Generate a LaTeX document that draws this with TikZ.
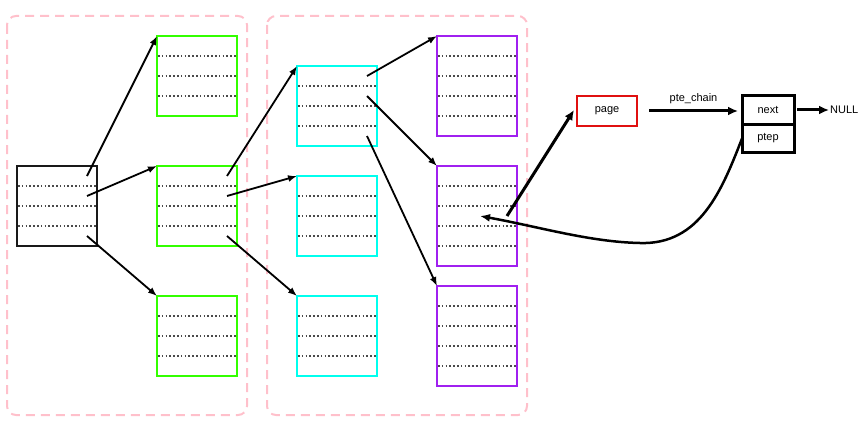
\documentclass[tikz,border=0pt]{standalone}
\usepackage{fontspec}
\setmainfont{Liberation Sans}
\usetikzlibrary{arrows.meta,calc}
\definecolor{gr}{HTML}{33FF00}
\definecolor{cy}{HTML}{00FFEE}
\definecolor{pu}{HTML}{A020F0}
\definecolor{rd}{HTML}{E01010}
\definecolor{pk}{HTML}{FFC0CB}
\definecolor{dk}{HTML}{4A4A4A}
\tikzset{
  grp/.style={draw=pk,line width=2pt,dash pattern=on 9pt off 6pt,rounded corners=9pt},
  cell/.style={draw=#1,line width=2pt,minimum width=80pt,minimum height=80pt,inner sep=0pt,outer sep=0pt,anchor=north west},
  tall/.style={draw=#1,line width=2pt,minimum width=80pt,minimum height=100pt,inner sep=0pt,outer sep=0pt,anchor=north west},
  sep/.style={draw=dk,line width=1.5pt,dash pattern=on 1.6pt off 2.2pt},
  arr/.style={draw=black,line width=1.8pt,-{Latex[length=9pt,width=7pt]}},
  thk/.style={draw=black,line width=3pt,-{Latex[length=10pt,width=9pt]}},
  lbl/.style={font=\fontsize{11pt}{13pt}\selectfont,inner sep=1pt},
  rec/.style={draw=black,line width=3pt,minimum width=52pt,minimum height=28.5pt,inner sep=0pt,outer sep=0pt,lbl}
}
\begin{document}
\begin{tikzpicture}[x=1pt,y=-1pt]
\useasboundingbox (0,0) rectangle (864,425);
% groups
\draw[grp] (7,16) rectangle (247,415);
\draw[grp] (267,16) rectangle (527,415);
% boxes
\node[cell=black!90] (b0) at (17,166) {};
\node[cell=gr] (g1) at (157,36) {};
\node[cell=gr] (g2) at (157,166) {};
\node[cell=gr] (g3) at (157,296) {};
\node[cell=cy] (c1) at (297,66) {};
\node[cell=cy] (c2) at (297,176) {};
\node[cell=cy] (c3) at (297,296) {};
\node[tall=pu] (p1) at (437,36) {};
\node[tall=pu] (p2) at (437,166) {};
\node[tall=pu] (p3) at (437,286) {};
% separators
\foreach \n in {b0,g1,g2,g3,c1,c2,c3}{
  \foreach \k in {20,40,60}{
    \draw[sep] ($(\n.north west)+(1,\k)$) -- ($(\n.north east)+(-1,\k)$);
  }
}
\foreach \n in {p1,p2,p3}{
  \foreach \k in {20,40,60,80}{
    \draw[sep] ($(\n.north west)+(1,\k)$) -- ($(\n.north east)+(-1,\k)$);
  }
}
% coordinates of slots
\coordinate (b0a) at ($(b0.north west)+(70,10)$);
\coordinate (b0b) at ($(b0.north west)+(70,30)$);
\coordinate (b0c) at ($(b0.north west)+(70,70)$);
\coordinate (g2a) at ($(g2.north west)+(70,10)$);
\coordinate (g2b) at ($(g2.north west)+(70,30)$);
\coordinate (g2c) at ($(g2.north west)+(70,70)$);
\coordinate (c1a) at ($(c1.north west)+(70,10)$);
\coordinate (c1b) at ($(c1.north west)+(70,30)$);
\coordinate (c1c) at ($(c1.north west)+(70,70)$);
\coordinate (p2a) at ($(p2.north west)+(70,50)$);
\coordinate (p2t) at ($(p2.north west)+(43,50)$);
% arrows
\draw[arr] (b0a) -- (g1.north west);
\draw[arr] (b0b) -- (g2.north west);
\draw[arr] (b0c) -- (g3.north west);
\draw[arr] (g2a) -- (c1.north west);
\draw[arr] (g2b) -- (c2.north west);
\draw[arr] (g2c) -- (c3.north west);
\draw[arr] (c1a) -- (p1.north west);
\draw[arr] (c1b) -- (p2.north west);
\draw[arr] (c1c) -- (p3.north west);
% right part
\node[draw=rd,line width=2pt,minimum width=60pt,minimum height=30pt,inner sep=0pt,lbl] (page) at (607,111) {page};
\node[rec] (next) at (768,110) {next};
\node[rec,anchor=north] (ptep) at (next.south) {ptep};
\node[lbl,anchor=west] (null) at (829,110) {NULL};
\draw[thk] ($(page.east)+(11,0)$) -- node[lbl,above=5pt] {pte\_chain} ($(next.west)+(-4,1)$);
\draw[thk] ($(next.east)+(3,0)$) -- (null.west);
\draw[thk] (p2a) -- ($(page.west)+(-2,-1)$);
\draw[line width=2.5pt,-{Latex[length=10pt,width=8pt]}] (ptep.west) .. controls (722,190) and (700,245) .. (640,243) .. controls (590,242) and (540,227) .. (p2t);
\end{tikzpicture}
\end{document}
